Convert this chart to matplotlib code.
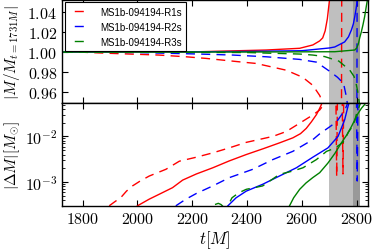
import numpy as np
import matplotlib
matplotlib.use('Agg')
import matplotlib.pyplot as plt
from matplotlib.ticker import MultipleLocator, FuncFormatter, LogLocator, NullFormatter

plt.rcParams['mathtext.fontset'] = 'cm'
plt.rcParams['lines.scale_dashes'] = False

# ---- top panel: M / M(t=1731M) ----
r1_top_solid_t = [1731, 2000, 2226, 2470, 2592, 2640, 2665, 2676, 2685, 2693, 2701, 2708]
r1_top_solid_v = [1.0, 1.0001, 1.0003, 1.002, 1.0037, 1.007, 1.011, 1.014, 1.021, 1.033, 1.052, 1.08]
r2_top_solid_t = [1731, 2200, 2400, 2600, 2700, 2720, 2756, 2770, 2781, 2788, 2793, 2798, 2803, 2808]
r2_top_solid_v = [1.0, 1.0002, 1.0006, 1.0013, 1.004, 1.005, 1.010, 1.015, 1.022, 1.028, 1.035, 1.043, 1.053, 1.07]
r3_top_solid_t = [1731, 2400, 2720, 2793, 2800, 2806, 2811, 2817, 2823, 2829, 2835, 2840]
r3_top_solid_v = [1.0, 1.0, 1.0003, 1.002, 1.004, 1.008, 1.014, 1.020, 1.027, 1.035, 1.045, 1.053]

r1_top_dash_t = [1731, 1800, 1900, 2078, 2177, 2250, 2383, 2433, 2543, 2603, 2640, 2665, 2677, 2700, 2743, 2747, 2760]
r1_top_dash_v = [1.0, 0.9998, 0.9987, 0.997, 0.9953, 0.9937, 0.990, 0.9887, 0.982, 0.975, 0.967, 0.957, 0.949, 0.90, 0.70, 1.30, 1.40]
r2_top_dash_t = [1731, 2000, 2226, 2348, 2470, 2592, 2653, 2701, 2730, 2752, 2763, 2775, 2800, 2803, 2820]
r2_top_dash_v = [1.0, 0.9995, 0.998, 0.997, 0.9953, 0.9927, 0.990, 0.981, 0.975, 0.969, 0.955, 0.93, 0.80, 1.30, 1.40]
r3_top_dash_t = [1731, 2400, 2592, 2640, 2683, 2735, 2775, 2790, 2797, 2803, 2812, 2840]
r3_top_dash_v = [1.0, 0.9995, 0.998, 0.997, 0.9955, 0.991, 0.982, 0.976, 0.970, 0.962, 0.945, 0.90]

# ---- bottom panel: |Delta M| [Msun] ----
r1_bot_solid_t = [2000, 2043, 2080, 2128, 2165, 2215, 2275, 2335, 2397, 2460, 2518, 2567, 2595, 2616, 2635, 2653, 2662, 2670, 2680]
r1_bot_solid_v = [3.0e-4, 4.2e-4, 5.4e-4, 7.5e-4, 1.1e-3, 1.5e-3, 2.05e-3, 2.9e-3, 4.0e-3, 5.4e-3, 7.2e-3, 9.3e-3, 1.15e-2, 1.5e-2, 2.1e-2, 3.0e-2, 3.8e-2, 4.8e-2, 7e-2]
r2_bot_solid_t = [2330, 2360, 2397, 2457, 2518, 2580, 2640, 2695, 2732, 2756, 2768, 2778]
r2_bot_solid_v = [3.0e-4, 4.5e-4, 6.3e-4, 8.9e-4, 1.35e-3, 2.05e-3, 3.5e-3, 5.6e-3, 1.0e-2, 2.3e-2, 4.5e-2, 7e-2]
r3_bot_solid_t = [2555, 2570, 2592, 2615, 2640, 2665, 2695, 2720, 2744, 2765, 2781, 2793, 2805, 2818, 2829, 2840]
r3_bot_solid_v = [3.0e-4, 4.5e-4, 6.9e-4, 9.5e-4, 1.25e-3, 1.6e-3, 2.6e-3, 4.2e-3, 7.2e-3, 1.1e-2, 1.65e-2, 2.3e-2, 3.2e-2, 4.2e-2, 5.0e-2, 6.5e-2]

r1_bot_dash_t = [1897, 1915, 1940, 1960, 1982, 2010, 2043, 2104, 2153, 2215, 2275, 2335, 2397, 2494, 2543, 2592, 2640, 2665, 2680, 2700, 2724, 2727, 2730, 2747, 2750, 2753, 2780]
r1_bot_dash_v = [3.0e-4, 3.6e-4, 4.6e-4, 6.3e-4, 8.2e-4, 1.05e-3, 1.35e-3, 1.9e-3, 2.86e-3, 3.5e-3, 4.36e-3, 5.6e-3, 7.4e-3, 1.0e-2, 1.28e-2, 1.95e-2, 2.96e-2, 3.8e-2, 5e-2, 8e-2, 0.1, 1.3e-3, 0.1, 0.1, 1.5e-3, 0.1, 0.2]
r2_bot_dash_t = [2140, 2177, 2215, 2275, 2336, 2380, 2421, 2494, 2567, 2640, 2665, 2700, 2727, 2745, 2760, 2770, 2785, 2799, 2802, 2805, 2830]
r2_bot_dash_v = [3.0e-4, 4.2e-4, 5.6e-4, 8.2e-4, 1.25e-3, 1.55e-3, 1.9e-3, 3.1e-3, 4.7e-3, 8.5e-3, 1.14e-2, 1.6e-2, 2.1e-2, 3.0e-2, 4.2e-2, 6e-2, 0.1, 0.1, 1.05e-3, 0.1, 0.2]
r3_bot_dash_t = [2283, 2295, 2305, 2315, 2322, 2330, 2345, 2370, 2397, 2457, 2518, 2567, 2604, 2653, 2690, 2720, 2751, 2770, 2789, 2800, 2812, 2820]
r3_bot_dash_v = [3.2e-4, 3.4e-4, 3.2e-4, 2.8e-4, 2.0e-4, 3.0e-4, 4.5e-4, 5.8e-4, 6.9e-4, 8.2e-4, 1.47e-3, 1.74e-3, 2.05e-3, 3.1e-3, 4.7e-3, 5.5e-3, 7.5e-3, 1.25e-2, 1.8e-2, 3.2e-2, 5e-2, 8e-2]

labels = ['MS1b-094194-R1s', 'MS1b-094194-R2s', 'MS1b-094194-R3s']
colors = ['r', 'b', 'g']

dash = (0, (6.5, 4.5))
lw = 1.0

fig, (ax1, ax2) = plt.subplots(2, 1, sharex=True, figsize=(3.74, 2.51), dpi=100)
fig.subplots_adjust(left=0.166, right=0.983, top=0.996, bottom=0.175, hspace=0)

for ax in (ax1, ax2):
    ax.axvspan(2700, 2812, color='0.75', lw=0, zorder=0)
    ax.axvspan(2785, 2812, color='0.6', lw=0, zorder=0)

top_solid = [(r1_top_solid_t, r1_top_solid_v), (r2_top_solid_t, r2_top_solid_v), (r3_top_solid_t, r3_top_solid_v)]
top_dash = [(r1_top_dash_t, r1_top_dash_v), (r2_top_dash_t, r2_top_dash_v), (r3_top_dash_t, r3_top_dash_v)]
bot_solid = [(r1_bot_solid_t, r1_bot_solid_v), (r2_bot_solid_t, r2_bot_solid_v), (r3_bot_solid_t, r3_bot_solid_v)]
bot_dash = [(r1_bot_dash_t, r1_bot_dash_v), (r2_bot_dash_t, r2_bot_dash_v), (r3_bot_dash_t, r3_bot_dash_v)]

handles = []
for i in range(3):
    ax1.plot(*top_solid[i], color=colors[i], lw=lw)
    h, = ax1.plot(*top_dash[i], color=colors[i], lw=lw, ls=dash, label=labels[i])
    handles.append(h)
    ax2.plot(*bot_solid[i], color=colors[i], lw=lw)
    ax2.plot(*bot_dash[i], color=colors[i], lw=lw, ls=dash)

ax1.set_ylim(0.9495, 1.0515)
ax1.yaxis.set_major_locator(MultipleLocator(0.02))
ax1.yaxis.set_major_formatter(FuncFormatter(lambda v, p: r'$%.2f$' % v))

ax2.set_yscale('log')
ax2.set_ylim(2.96e-4, 5.4e-2)
ax2.yaxis.set_major_locator(LogLocator(base=10))
ax2.yaxis.set_minor_locator(LogLocator(base=10, subs=np.arange(2, 10)))
ax2.yaxis.set_major_formatter(FuncFormatter(lambda v, p: r'$10^{%d}$' % round(np.log10(v))))
ax2.yaxis.set_minor_formatter(NullFormatter())

ax2.set_xlim(1725, 2840)
ax2.xaxis.set_major_locator(MultipleLocator(200))
ax2.xaxis.set_major_formatter(FuncFormatter(lambda v, p: r'$%d$' % v))

for ax in (ax1, ax2):
    ax.tick_params(which='major', direction='in', top=True, right=True, length=4.5, width=0.8, labelsize=11.5)
    ax.tick_params(which='minor', direction='in', top=True, right=True, length=2.2, width=0.6)
    for s in ax.spines.values():
        s.set_linewidth(1.0)

ax1.set_ylabel(r'$|M/M_{t=1731M}|$', fontsize=11)
ax2.set_ylabel(r'$|\Delta M|[M_{\odot}]$', fontsize=11)
ax2.set_xlabel(r'$t[M]$', fontsize=12, labelpad=2)
ax1.yaxis.set_label_coords(-0.132, 0.5)
ax2.yaxis.set_label_coords(-0.132, 0.5)

leg = ax1.legend(handles=handles, loc='upper left', prop={'family': 'Liberation Sans', 'size': 7},
                 frameon=True, fancybox=False, edgecolor='k', framealpha=1, borderaxespad=0.25,
                 handlelength=2.4, borderpad=0.45)
leg.get_frame().set_linewidth(0.8)
for ln in leg.get_lines():
    ln.set_linestyle((11.7, (6.5, 9.0)))

fig.savefig('out.png', dpi=100)
